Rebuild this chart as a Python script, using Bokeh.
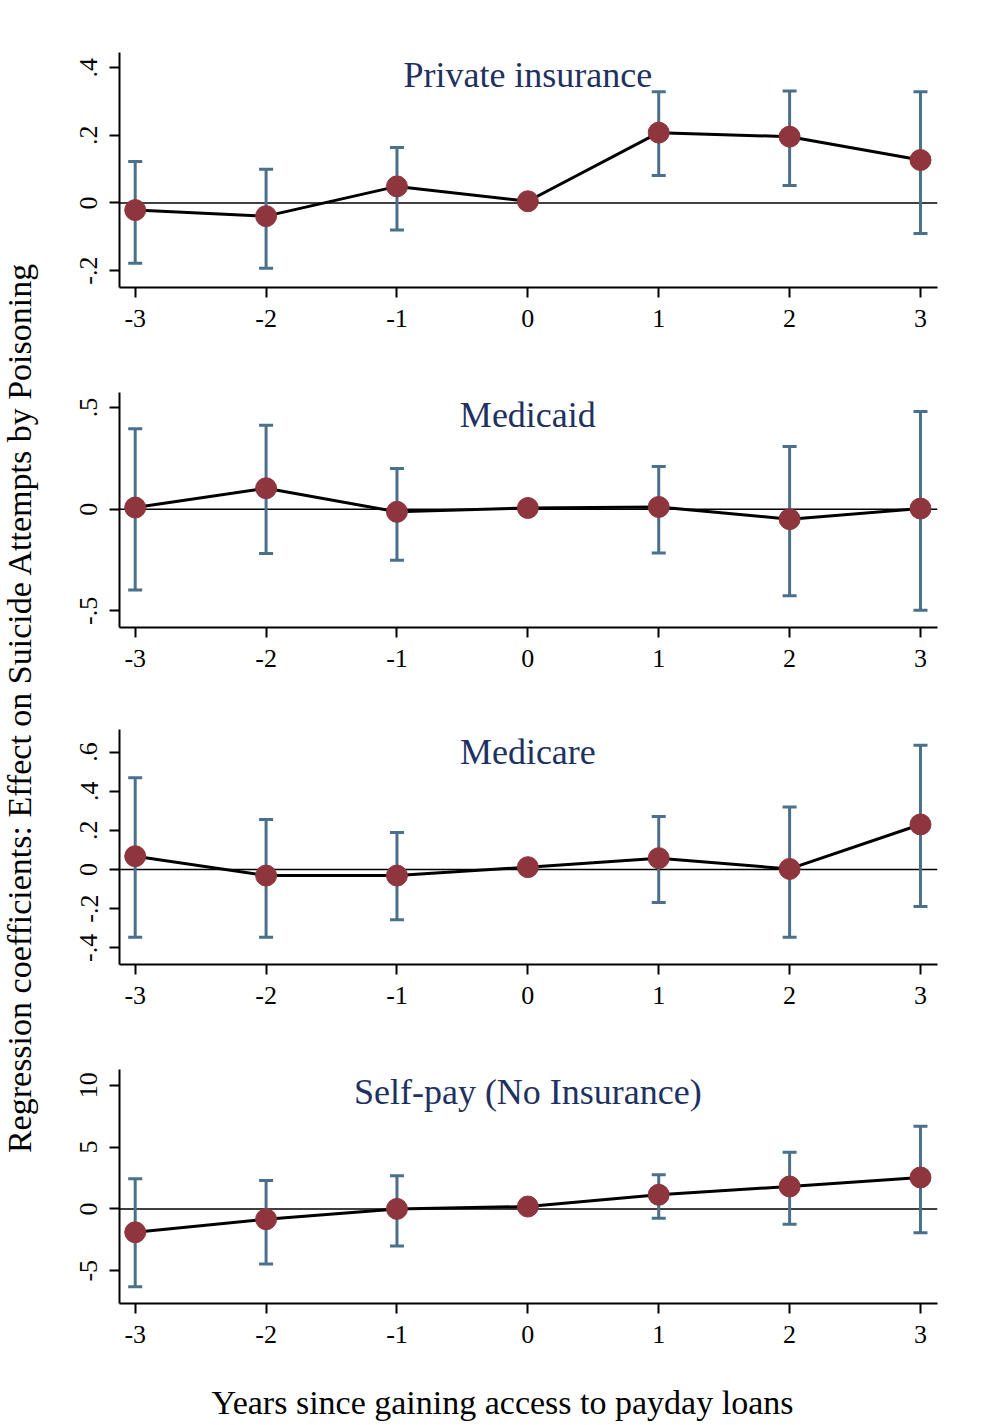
import math
from bokeh.plotting import figure
from bokeh.layouts import column, row
from bokeh.models import FixedTicker, Span, Label
from bokeh.embed import file_html
from bokeh.resources import INLINE
from bokeh.core.properties import value

# ---------------- data ----------------
years = [-3, -2, -1, 0, 1, 2, 3]
ci_years = [-3, -2, -1, 1, 2, 3]
x_tick_labels = ["-3", "-2", "-1", "0", "1", "2", "3"]

private_coef = [-0.021, -0.039, 0.049, 0.005, 0.208, 0.196, 0.127]
private_upper = [0.123, 0.100, 0.164, 0.329, 0.331, 0.329]
private_lower = [-0.178, -0.193, -0.080, 0.081, 0.052, -0.090]

medicaid_coef = [0.008, 0.103, -0.013, 0.006, 0.011, -0.049, 0.003]
medicaid_upper = [0.396, 0.413, 0.200, 0.210, 0.308, 0.480]
medicaid_lower = [-0.397, -0.218, -0.251, -0.215, -0.426, -0.497]

medicare_coef = [0.068, -0.031, -0.031, 0.012, 0.058, 0.003, 0.230]
medicare_upper = [0.469, 0.256, 0.189, 0.271, 0.319, 0.634]
medicare_lower = [-0.346, -0.346, -0.257, -0.169, -0.346, -0.189]

selfpay_coef = [-1.89, -0.84, 0.0, 0.19, 1.14, 1.81, 2.54]
selfpay_upper = [2.43, 2.30, 2.68, 2.76, 4.57, 6.68]
selfpay_lower = [-6.30, -4.46, -3.00, -0.76, -1.24, -1.92]

titles = ["Private insurance", "Medicaid", "Medicare", "Self-pay (No Insurance)"]
y_ranges = [(-0.25, 0.445), (-0.582, 0.574), (-0.485, 0.715), (-7.65, 11.27)]
y_ticks = [[-0.2, 0, 0.2, 0.4], [-0.5, 0, 0.5], [-0.4, -0.2, 0, 0.2, 0.4, 0.6], [-5, 0, 5, 10]]
y_tick_labels = [["-.2", "0", ".2", ".4"], ["-.5", "0", ".5"],
                 ["-.4", "-.2", "0", ".2", ".4", ".6"], ["-5", "0", "5", "10"]]

y_label = "Regression coefficients: Effect on Suicide Attempts by Poisoning"
x_label = "Years since gaining access to payday loans"

# ---------------- style ----------------
FONT = "Liberation Serif"
MARKER = "#8E353D"
CI = "#4A708B"
TITLE = "#1E3160"

panels = [
    (private_coef, private_upper, private_lower),
    (medicaid_coef, medicaid_upper, medicaid_lower),
    (medicare_coef, medicare_upper, medicare_lower),
    (selfpay_coef, selfpay_upper, selfpay_lower),
]
# (border top, border bottom, figure height)
borders = [(52, 61, 348), (44, 61, 340), (41, 64, 340), (41, 61, 336)]

figs = []
for i, (coef, up, lo) in enumerate(panels):
    bt, bb, h = borders[i]
    ys, ye = y_ranges[i]
    p = figure(width=914, height=h, x_range=(-3.12, 3.13), y_range=(ys, ye),
               min_border_left=71, min_border_right=25, min_border_top=bt,
               min_border_bottom=bb, toolbar_location=None, output_backend="svg")
    p.outline_line_color = None
    p.xgrid.visible = False
    p.ygrid.visible = False
    p.background_fill_color = "white"
    p.border_fill_color = "white"

    zero = Span(location=0, dimension="width", line_color="black", line_width=1.5, level="underlay")
    p.add_layout(zero)

    # confidence intervals
    p.segment(x0=ci_years, y0=lo, x1=ci_years, y1=up, line_color=CI, line_width=3)
    p.scatter(x=ci_years, y=up, marker="dash", size=14, line_color=CI, line_width=3)
    p.scatter(x=ci_years, y=lo, marker="dash", size=14, line_color=CI, line_width=3)
    # coefficients
    p.line(x=years, y=coef, line_color="black", line_width=3)
    p.scatter(x=years, y=coef, size=21, fill_color=MARKER, line_color=MARKER)

    # axes
    xa = p.xaxis[0]
    xa.ticker = FixedTicker(ticks=years)
    xa.major_label_overrides = {t: l for t, l in zip(years, x_tick_labels)}
    xa.major_tick_out = 10
    xa.major_tick_in = 0
    xa.minor_tick_out = 0
    xa.minor_tick_in = 0
    xa.axis_line_width = 2
    xa.major_tick_line_width = 2
    xa.major_label_standoff = 12
    xa.major_label_text_font = FONT
    xa.major_label_text_font_size = "26px"
    xa.major_label_text_color = "black"

    ya = p.yaxis[0]
    ya.ticker = FixedTicker(ticks=y_ticks[i])
    ya.major_label_overrides = {t: l for t, l in zip(y_ticks[i], y_tick_labels[i])}
    ya.major_label_orientation = "vertical"
    ya.major_tick_out = 10
    ya.major_tick_in = 0
    ya.minor_tick_out = 0
    ya.minor_tick_in = 0
    ya.axis_line_width = 2
    ya.major_tick_line_width = 2
    ya.major_label_standoff = 12
    ya.major_label_text_font = FONT
    ya.major_label_text_font_size = "26px"
    ya.major_label_text_color = "black"

    frame_h = h - bt - bb
    title_y = ye - 22.0 / frame_h * (ye - ys)
    p.add_layout(Label(x=0, y=title_y, text=titles[i], text_align="center",
                       text_baseline="alphabetic", text_font=FONT,
                       text_font_size="36px", text_color=TITLE))
    figs.append(p)

total_h = sum(b[2] for b in borders)

# y-axis label panel
lab = figure(width=48, height=total_h, x_range=(0, 48), y_range=(0, total_h),
             x_axis_type=None, y_axis_type=None, min_border=0,
             toolbar_location=None, output_backend="svg")
lab.outline_line_color = None
lab.xgrid.visible = False
lab.ygrid.visible = False
lab.text(x=[19], y=[total_h - 707], text=[y_label], angle=math.pi / 2,
         text_align="center", text_baseline="middle", text_font=value(FONT),
         text_font_size="34px", text_color="black")

# x-axis label panel
xh = 1424 - total_h
xl = figure(width=962, height=xh, x_range=(0, 962), y_range=(0, xh),
            x_axis_type=None, y_axis_type=None, min_border=0,
            toolbar_location=None, output_backend="svg")
xl.outline_line_color = None
xl.xgrid.visible = False
xl.ygrid.visible = False
xl.text(x=[502], y=[22], text=[x_label], text_align="center",
        text_baseline="alphabetic", text_font=value(FONT),
        text_font_size="34px", text_color="black")

layout = column(row(lab, column(*figs)), xl)

open("out.html", "w").write(file_html(layout, INLINE))
